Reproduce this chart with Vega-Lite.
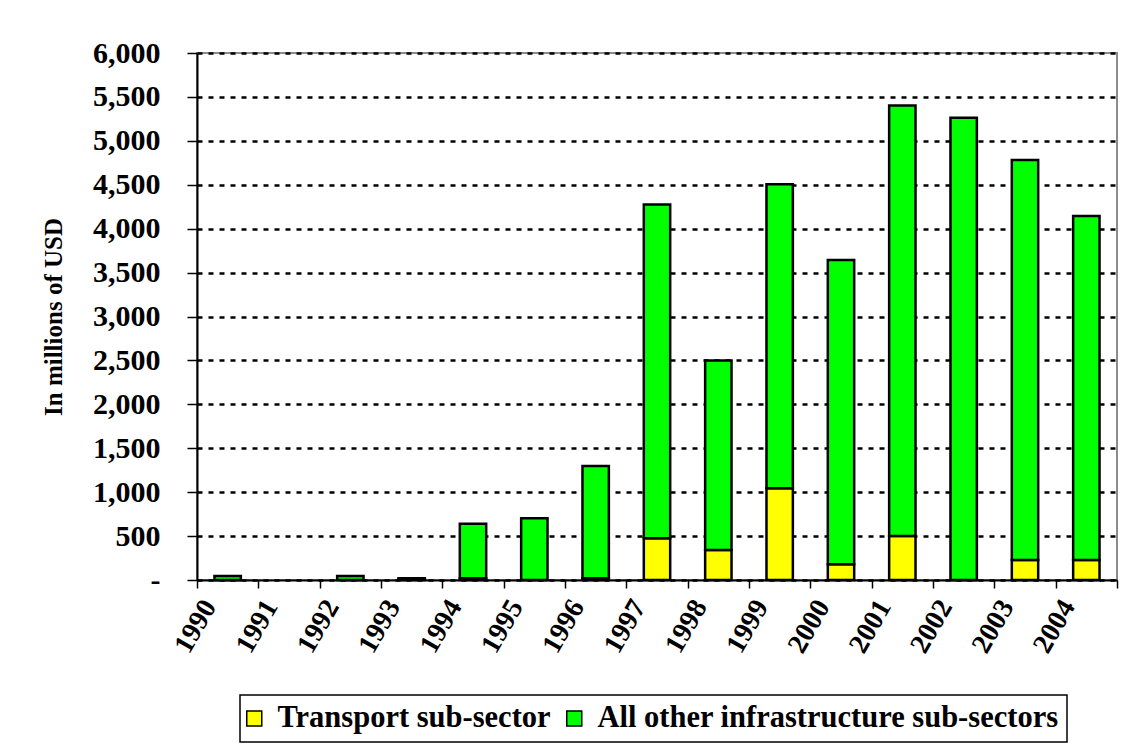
{
  "$schema": "https://vega.github.io/schema/vega-lite/v6.json",
  "autosize": {"type": "none"},
  "padding": {"left": 197, "top": 53, "right": 16, "bottom": 172},
  "width": 920,
  "height": 527,
  "background": "white",
  "config": {
    "font": "Liberation Serif",
    "view": {"stroke": "#8c8c8c", "strokeWidth": 2},
    "legend": {"strokeWidth": 1.5}
  },
  "data": {
    "values": [
      {"year": "1990", "sector": "Transport sub-sector", "value": 0},
      {"year": "1990", "sector": "All other infrastructure sub-sectors", "value": 45},
      {"year": "1992", "sector": "Transport sub-sector", "value": 0},
      {"year": "1992", "sector": "All other infrastructure sub-sectors", "value": 45},
      {"year": "1993", "sector": "Transport sub-sector", "value": 5},
      {"year": "1993", "sector": "All other infrastructure sub-sectors", "value": 15},
      {"year": "1994", "sector": "Transport sub-sector", "value": 20},
      {"year": "1994", "sector": "All other infrastructure sub-sectors", "value": 620},
      {"year": "1995", "sector": "Transport sub-sector", "value": 0},
      {"year": "1995", "sector": "All other infrastructure sub-sectors", "value": 702},
      {"year": "1996", "sector": "Transport sub-sector", "value": 20},
      {"year": "1996", "sector": "All other infrastructure sub-sectors", "value": 1278},
      {"year": "1997", "sector": "Transport sub-sector", "value": 475},
      {"year": "1997", "sector": "All other infrastructure sub-sectors", "value": 3800},
      {"year": "1998", "sector": "Transport sub-sector", "value": 342},
      {"year": "1998", "sector": "All other infrastructure sub-sectors", "value": 2156},
      {"year": "1999", "sector": "Transport sub-sector", "value": 1044},
      {"year": "1999", "sector": "All other infrastructure sub-sectors", "value": 3462},
      {"year": "2000", "sector": "Transport sub-sector", "value": 180},
      {"year": "2000", "sector": "All other infrastructure sub-sectors", "value": 3462},
      {"year": "2001", "sector": "Transport sub-sector", "value": 501},
      {"year": "2001", "sector": "All other infrastructure sub-sectors", "value": 4900},
      {"year": "2002", "sector": "Transport sub-sector", "value": 0},
      {"year": "2002", "sector": "All other infrastructure sub-sectors", "value": 5262},
      {"year": "2003", "sector": "Transport sub-sector", "value": 228},
      {"year": "2003", "sector": "All other infrastructure sub-sectors", "value": 4555},
      {"year": "2004", "sector": "Transport sub-sector", "value": 228},
      {"year": "2004", "sector": "All other infrastructure sub-sectors", "value": 3915}
    ]
  },
  "mark": {"type": "bar", "width": {"band": 0.43}, "stroke": "black", "strokeWidth": 2.5},
  "encoding": {
    "x": {
      "field": "year",
      "type": "ordinal",
      "scale": {
        "domain": ["1990", "1991", "1992", "1993", "1994", "1995", "1996", "1997", "1998", "1999", "2000", "2001", "2002", "2003", "2004"],
        "paddingInner": 0, "paddingOuter": 0
      },
      "axis": {
        "title": null,
        "tickBand": "extent",
        "domainColor": "black",
        "domainWidth": 2,
        "tickColor": "black",
        "tickWidth": 1.5,
        "tickSize": 8,
        "labelAngle": -60,
        "labelAlign": "right",
        "labelBaseline": "middle",
        "labelPadding": 14,
        "labelOffset": -18,
        "labelFont": "Liberation Serif",
        "labelFontWeight": "bold",
        "labelFontSize": 28,
        "labelColor": "black"
      }
    },
    "y": {
      "field": "value",
      "type": "quantitative",
      "stack": "zero",
      "scale": {"domain": [0, 6000], "nice": false},
      "axis": {
        "title": "In millions of USD",
        "titleFont": "Liberation Serif",
        "titleFontWeight": "bold",
        "titleFontSize": 25,
        "titleColor": "black",
        "titleX": -131,
        "values": [0, 500, 1000, 1500, 2000, 2500, 3000, 3500, 4000, 4500, 5000, 5500, 6000],
        "labelExpr": "datum.value === 0 ? '-\u00a0\u00a0\u00a0\u00a0\u00a0' : format(datum.value, ',')",
        "labelFont": "Liberation Serif",
        "labelFontWeight": "bold",
        "labelFontSize": 30,
        "labelColor": "black",
        "labelPadding": 27,
        "tickSize": 10,
        "tickColor": "black",
        "tickWidth": 1.5,
        "domainColor": "black",
        "domainWidth": 2,
        "grid": true,
        "gridColor": "black",
        "gridWidth": 2.5,
        "gridDash": [5, 6]
      }
    },
    "color": {
      "field": "sector",
      "type": "nominal",
      "scale": {
        "domain": ["Transport sub-sector", "All other infrastructure sub-sectors"],
        "range": ["#ffff00", "#00ff00"]
      },
      "legend": {
        "title": null,
        "orient": "none",
        "direction": "horizontal",
        "legendX": 43,
        "legendY": 642,
        "strokeColor": "black",
        "fillColor": "white",
        "padding": 8,
        "symbolType": "square",
        "symbolSize": 225,
        "symbolOffset": -9,
        "symbolStrokeColor": "black",
        "symbolStrokeWidth": 1.5,
        "symbolOpacity": 1,
        "labelFont": "Liberation Serif",
        "labelFontWeight": "bold",
        "labelFontSize": 30.5,
        "labelColor": "black",
        "labelLimit": 0,
        "labelOffset": 8,
        "columnPadding": 12
      }
    },
    "order": {"field": "sector", "sort": "descending"}
  }
}
